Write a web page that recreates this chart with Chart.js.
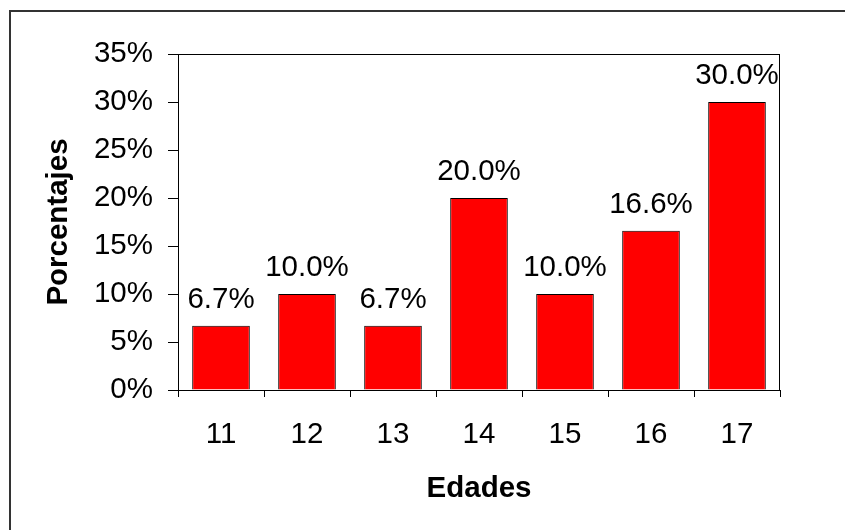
<!DOCTYPE html>
<html>
<head>
<meta charset="utf-8">
<title>Edades</title>
<script src="https://cdn.jsdelivr.net/npm/chart.js@4/dist/chart.umd.min.js"></script>
<style>
  body { margin: 0; background: #fff; }
  canvas { display: block; }
</style>
</head>
<body>
<canvas id="bar-chart" width="845" height="530"></canvas>
<script>
// datos del gráfico
const edades = ['11', '12', '13', '14', '15', '16', '17'];
const porcentajes = [6.7, 10.0, 6.7, 20.0, 10.0, 16.6, 30.0];
const yMax = 35;
const yStep = 5;

const fuente = '"Liberation Sans", Arial, sans-serif';

// marco exterior y borde del área de trazado
const marcos = {
    id: 'marcos',
    beforeDraw(chart) {
        const ctx = chart.ctx;
        ctx.save();
        ctx.strokeStyle = '#333';
        ctx.lineWidth = 2;
        ctx.beginPath();
        ctx.moveTo(10, 530);
        ctx.lineTo(10, 11);
        ctx.lineTo(845, 11);
        ctx.stroke();
        ctx.restore();
    },
    afterDraw(chart) {
        const a = chart.chartArea;
        const ctx = chart.ctx;
        ctx.save();
        ctx.strokeStyle = '#000';
        ctx.lineWidth = 1;
        ctx.strokeRect(Math.round(a.left) + 0.5, Math.round(a.top) + 0.5,
            Math.round(a.right - a.left) - 1, Math.round(a.bottom - a.top));
        ctx.restore();
    }
};

// etiquetas de valor encima de cada barra
const etiquetas = {
    id: 'etiquetas',
    afterDatasetsDraw(chart) {
        const ctx = chart.ctx;
        const meta = chart.getDatasetMeta(0);
        ctx.save();
        ctx.font = '29.5px ' + fuente;
        ctx.fillStyle = '#000';
        ctx.textAlign = 'center';
        ctx.textBaseline = 'alphabetic';
        meta.data.forEach((bar, i) => {
            ctx.fillText(porcentajes[i].toFixed(1) + '%', bar.x, bar.y - 18);
        });
        ctx.restore();
    }
};

const ctx = document.getElementById('bar-chart').getContext('2d');
const myChart = new Chart(ctx, {
    type: 'bar',
    data: {
        labels: edades,
        datasets: [{
            data: porcentajes,
            backgroundColor: '#ff0000',
            borderColor: '#000',
            borderWidth: 1,
            barPercentage: 0.67,
            categoryPercentage: 1
        }]
    },
    options: {
        responsive: false,
        animation: false,
        devicePixelRatio: 1,
        layout: { padding: { left: 0, top: 54, right: 65, bottom: 0 } },
        plugins: {
            legend: { display: false },
            tooltip: { enabled: false }
        },
        scales: {
            x: {
                afterFit(scale) { scale.height = 140; },
                grid: {
                    drawOnChartArea: false,
                    drawTicks: true,
                    tickLength: 7,
                    tickColor: '#000',
                    offset: true
                },
                border: { color: '#000', width: 1 },
                ticks: {
                    color: '#000',
                    padding: 20,
                    maxRotation: 0,
                    font: { family: fuente, size: 29.5 }
                },
                title: {
                    display: true,
                    text: 'Edades',
                    color: '#000',
                    padding: { top: 23, bottom: 23 },
                    font: { family: fuente, size: 29.5, weight: 'bold' }
                }
            },
            y: {
                min: 0,
                max: yMax,
                afterFit(scale) { scale.width = 178; },
                grid: {
                    drawOnChartArea: false,
                    drawTicks: true,
                    tickLength: 10,
                    tickColor: '#000'
                },
                border: { color: '#000', width: 1 },
                ticks: {
                    stepSize: yStep,
                    color: '#000',
                    padding: 15,
                    font: { family: fuente, size: 29.5 },
                    callback: v => v + '%'
                },
                title: {
                    display: true,
                    text: 'Porcentajes',
                    color: '#000',
                    padding: { top: 41, bottom: 0 },
                    font: { family: fuente, size: 29.5, weight: 'bold' }
                }
            }
        }
    },
    plugins: [marcos, etiquetas]
});
</script>
</body>
</html>
